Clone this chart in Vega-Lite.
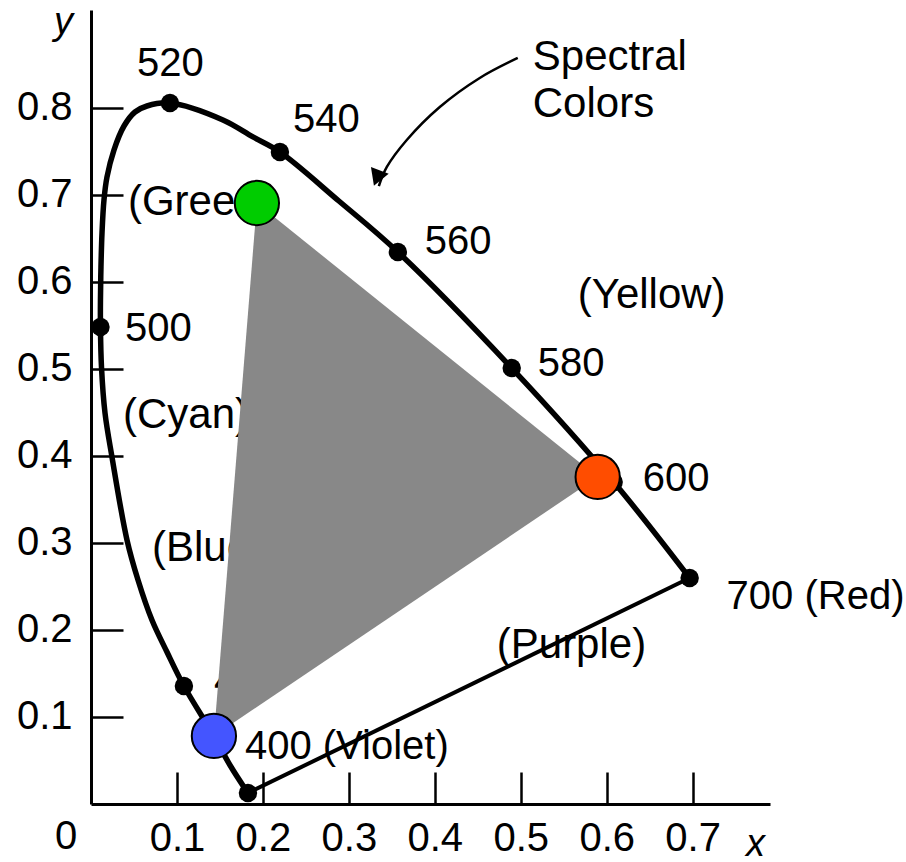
{
  "$schema": "https://vega.github.io/schema/vega-lite/v6.json",
  "width": 679,
  "height": 794,
  "autosize": {"type": "none"},
  "padding": {"left": 91, "top": 10, "right": 136, "bottom": 58},
  "background": "white",
  "config": {
    "view": {"stroke": null},
    "font": "Liberation Sans",
    "axis": {
      "grid": false,
      "domainColor": "black",
      "domainWidth": 3,
      "tickColor": "black",
      "tickWidth": 2.5,
      "tickSize": -32,
      "labelFont": "Liberation Sans",
      "labelFontSize": 40,
      "labelColor": "black",
      "titleFont": "Liberation Sans",
      "titleFontSize": 38,
      "titleFontStyle": "italic",
      "titleFontWeight": "normal",
      "titleColor": "black"
    },
    "text": {"font": "Liberation Sans", "color": "black", "align": "left", "baseline": "middle"}
  },
  "datasets": {
    "curve": [
      {"k": 1, "x": 0.6965, "y": 0.2598},
      {"k": 2, "x": 0.6081, "y": 0.3701},
      {"k": 3, "x": 0.4895, "y": 0.5011},
      {"k": 4, "x": 0.3570, "y": 0.6345},
      {"k": 5, "x": 0.2884, "y": 0.6931},
      {"k": 6, "x": 0.2198, "y": 0.7494},
      {"k": 7, "x": 0.1884, "y": 0.7667},
      {"k": 8, "x": 0.1535, "y": 0.7862},
      {"k": 9, "x": 0.0919, "y": 0.8057},
      {"k": 10, "x": 0.0651, "y": 0.8023},
      {"k": 11, "x": 0.0512, "y": 0.7954},
      {"k": 12, "x": 0.0384, "y": 0.7793},
      {"k": 13, "x": 0.0267, "y": 0.7517},
      {"k": 14, "x": 0.0186, "y": 0.7207},
      {"k": 15, "x": 0.0151, "y": 0.6943},
      {"k": 16, "x": 0.0128, "y": 0.6563},
      {"k": 17, "x": 0.0116, "y": 0.6172},
      {"k": 18, "x": 0.0110, "y": 0.5793},
      {"k": 19, "x": 0.0110, "y": 0.5483},
      {"k": 20, "x": 0.0122, "y": 0.5023},
      {"k": 21, "x": 0.0163, "y": 0.4494},
      {"k": 22, "x": 0.0244, "y": 0.3989},
      {"k": 23, "x": 0.0419, "y": 0.3034},
      {"k": 24, "x": 0.0547, "y": 0.2575},
      {"k": 25, "x": 0.0709, "y": 0.2115},
      {"k": 26, "x": 0.0884, "y": 0.1747},
      {"k": 27, "x": 0.1081, "y": 0.1356},
      {"k": 28, "x": 0.1430, "y": 0.0782},
      {"k": 29, "x": 0.1616, "y": 0.0448},
      {"k": 30, "x": 0.1826, "y": 0.0126}
    ],
    "purple": [
      {"x": 0.1826, "y": 0.0126},
      {"x": 0.6965, "y": 0.2598}
    ],
    "dots": [
      {"nm": 520, "x": 0.0919, "y": 0.8057},
      {"nm": 540, "x": 0.2198, "y": 0.7494},
      {"nm": 560, "x": 0.3570, "y": 0.6345},
      {"nm": 580, "x": 0.4895, "y": 0.5011},
      {"nm": 600, "x": 0.6081, "y": 0.3701},
      {"nm": 700, "x": 0.6965, "y": 0.2598},
      {"nm": 500, "x": 0.0110, "y": 0.5483},
      {"nm": 480, "x": 0.1081, "y": 0.1356},
      {"nm": 380, "x": 0.1826, "y": 0.0126}
    ],
    "primaries": [
      {"primary": "Green", "x": 0.1930, "y": 0.6908},
      {"primary": "Red", "x": 0.5895, "y": 0.3759},
      {"primary": "Blue", "x": 0.1430, "y": 0.0782}
    ],
    "gamut": [
      {"x": 0.1430, "y": 0.0782, "y2": 0.0782},
      {"x": 0.1930, "y": 0.6908, "y2": 0.1115},
      {"x": 0.5895, "y": 0.3759, "y2": 0.3759}
    ],
    "numLabels": [
      {"text": "520", "x": 0.0535, "y": 0.8506},
      {"text": "540", "x": 0.2349, "y": 0.7862},
      {"text": "560", "x": 0.3884, "y": 0.6460},
      {"text": "580", "x": 0.5198, "y": 0.5057},
      {"text": "600", "x": 0.6419, "y": 0.3736},
      {"text": "700 (Red)", "x": 0.7395, "y": 0.2379},
      {"text": "400 (Violet)", "x": 0.1791, "y": 0.0655},
      {"text": "500", "x": 0.0395, "y": 0.5460},
      {"text": "480", "x": 0.1430, "y": 0.1400},
      {"text": "0", "x": -0.0419, "y": -0.0379}
    ],
    "wordLabels": [
      {"text": "(Yellow)", "x": 0.5663, "y": 0.5851},
      {"text": "(Purple)", "x": 0.4721, "y": 0.1828},
      {"text": "(Cyan)", "x": 0.0372, "y": 0.4471},
      {"text": "(Blue)", "x": 0.0709, "y": 0.2943},
      {"text": "(Green)", "x": 0.0430, "y": 0.6920},
      {"text": "Spectral", "x": 0.5140, "y": 0.8586},
      {"text": "Colors", "x": 0.5140, "y": 0.8046}
    ],
    "arrow": [
      {"k": 1, "x": 0.4965, "y": 0.8575},
      {"k": 2, "x": 0.4523, "y": 0.8345},
      {"k": 3, "x": 0.4058, "y": 0.8011},
      {"k": 4, "x": 0.3674, "y": 0.7632},
      {"k": 5, "x": 0.3442, "y": 0.7322},
      {"k": 6, "x": 0.3349, "y": 0.7103}
    ],
    "head": [
      {"x": 0.3326, "y": 0.7195}
    ]
  },
  "encoding": {
    "x": {
      "field": "x", "type": "quantitative",
      "scale": {"domain": [0, 0.79], "nice": false, "zero": false},
      "axis": {
        "values": [0.1, 0.2, 0.3, 0.4, 0.5, 0.6, 0.7],
        "format": ".1f",
        "labelPadding": 46,
        "title": "x",
        "titleX": 664,
        "titleY": 40,
        "titleAlign": "center",
        "titleBaseline": "middle",
        "titleAngle": 0
      }
    },
    "y": {
      "field": "y", "type": "quantitative",
      "scale": {"domain": [0, 0.91264], "nice": false, "zero": false},
      "axis": {
        "values": [0.1, 0.2, 0.3, 0.4, 0.5, 0.6, 0.7, 0.8],
        "format": ".1f",
        "labelPadding": 51,
        "labelAlign": "right",
        "labelBaseline": "middle",
        "title": "y",
        "titleX": -28,
        "titleY": 12,
        "titleAngle": 0,
        "titleAlign": "center",
        "titleBaseline": "middle"
      }
    }
  },
  "layer": [
    {
      "data": {"name": "numLabels"},
      "mark": {"type": "text", "fontSize": 40},
      "encoding": {"text": {"field": "text", "type": "nominal"}}
    },
    {
      "data": {"name": "wordLabels"},
      "mark": {"type": "text", "fontSize": 42},
      "encoding": {"text": {"field": "text", "type": "nominal"}}
    },
    {
      "data": {"name": "gamut"},
      "mark": {"type": "area", "color": "#888888", "opacity": 1},
      "encoding": {"y2": {"field": "y2"}}
    },
    {
      "data": {"name": "curve"},
      "mark": {"type": "line", "color": "black", "strokeWidth": 5.5, "interpolate": "catmull-rom"},
      "encoding": {"order": {"field": "k", "type": "quantitative"}}
    },
    {
      "data": {"name": "purple"},
      "mark": {"type": "line", "color": "black", "strokeWidth": 4},
      "encoding": {}
    },
    {
      "data": {"name": "dots"},
      "mark": {"type": "point", "shape": "circle", "filled": true, "color": "black", "size": 340, "opacity": 1},
      "encoding": {}
    },
    {
      "data": {"name": "primaries"},
      "mark": {"type": "point", "shape": "circle", "filled": true, "size": 1960, "stroke": "black", "strokeWidth": 2, "opacity": 1},
      "encoding": {
        "fill": {
          "field": "primary", "type": "nominal",
          "scale": {"domain": ["Green", "Red", "Blue"], "range": ["#00CC00", "#FF4D00", "#4455FF"]},
          "legend": null
        }
      }
    },
    {
      "data": {"name": "arrow"},
      "mark": {"type": "line", "color": "black", "strokeWidth": 2.5, "interpolate": "catmull-rom"},
      "encoding": {"order": {"field": "k", "type": "quantitative"}}
    },
    {
      "data": {"name": "head"},
      "mark": {"type": "point", "shape": "triangle-up", "filled": true, "color": "black", "size": 360, "angle": 201, "opacity": 1},
      "encoding": {}
    }
  ]
}
